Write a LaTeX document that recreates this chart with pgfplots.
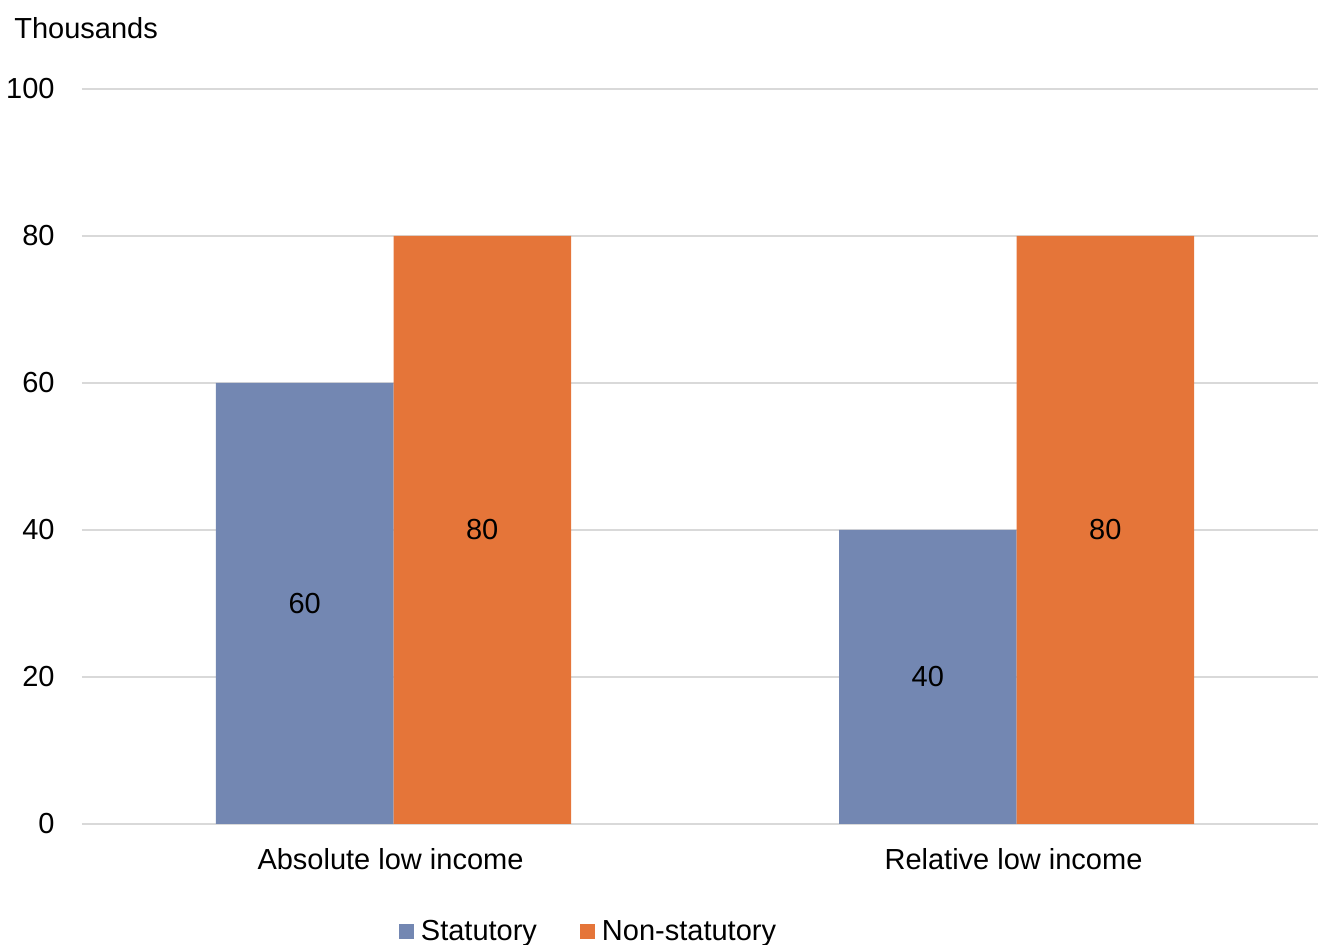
\documentclass[border=0pt]{standalone}
\usepackage{pgfplots}
\pgfplotsset{compat=1.18}
\usepackage{fontspec}
\setmainfont{Liberation Sans}

\definecolor{statblue}{RGB}{115,135,178}
\definecolor{nonstatorange}{RGB}{229,117,57}
\definecolor{gridgray}{RGB}{217,217,217}

\begin{document}
\begin{tikzpicture}[font=\fontsize{14.5}{17}\selectfont]
\begin{axis}[
  scale only axis,
  x=311.5pt, y=3.675pt,
  xmin=-0.5, xmax=1.484,
  ymin=0, ymax=100,
  ytick={0,20,40,60,80,100},
  xtick={0,1},
  xticklabels={Absolute low income, Relative low income},
  /pgf/number format/assume math mode=true,
  axis line style={draw=none},
  tick style={draw=none},
  major tick length=0pt,
  ymajorgrids,
  grid style={color=gridgray, line width=0.75pt},
  yticklabel style={anchor=east, inner sep=0pt, xshift=-13.5pt},
  xticklabel style={anchor=base, inner sep=0pt, yshift=-23pt, xshift=-1.5pt},
  ybar=0pt,
  bar width=88.75pt,
  visualization depends on=rawy\as\rawy,
  nodes near coords={\pgfmathprintnumber{\rawy}},
  every node near coord/.append style={
    anchor=center, inner sep=0pt, color=black,
    shift={(axis direction cs:0,-\rawy/2)}},
  legend columns=2,
  legend style={draw=none, fill=none,
    at={(0.4118,0)}, anchor=center, yshift=-54pt,
    /tikz/every even column/.append style={column sep=18pt},
    nodes={inner xsep=3.5pt, inner ysep=0pt}},
  legend image code/.code={\fill[#1] (0pt,-3.75pt) rectangle (7.5pt,3.75pt);},
]
\addplot[draw=none, fill=statblue] coordinates {(0,60) (1,40)};
\addlegendentry{Statutory}
\addplot[draw=none, fill=nonstatorange] coordinates {(0,80) (1,80)};
\addlegendentry{Non-statutory}
\end{axis}
\node[anchor=base west, inner sep=0pt] at (-34pt,392.5pt) {Thousands};
\pgfresetboundingbox
\path (-41pt,-60.5pt) rectangle (618pt,412pt);
\end{tikzpicture}
\end{document}
